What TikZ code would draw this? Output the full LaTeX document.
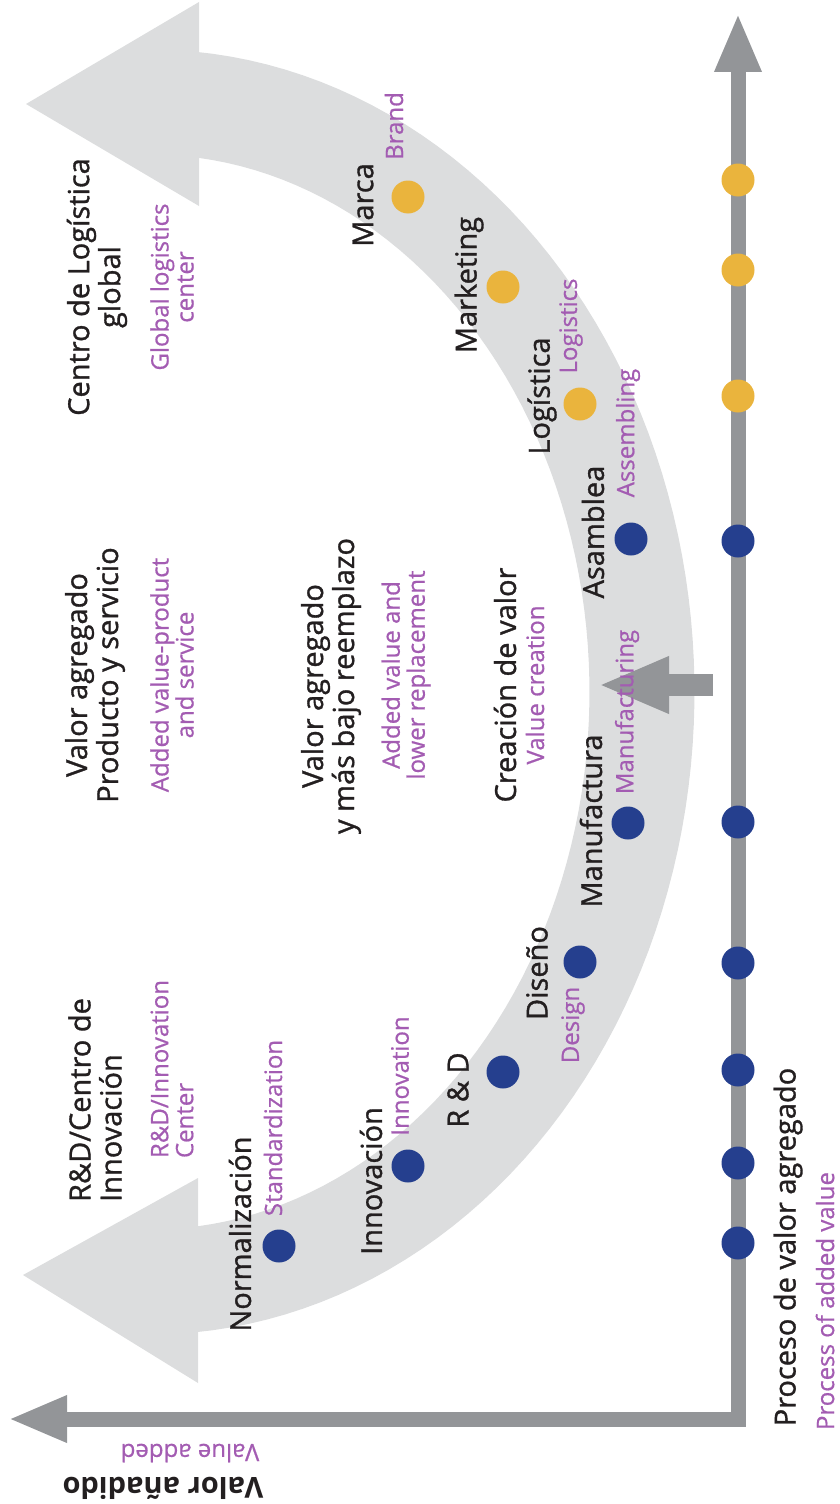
\documentclass[tikz,border=0pt]{standalone}
\usepackage{fontspec}
\setmainfont{Open Sans}
\newfontfamily\medfont{Open Sans}[FakeBold=1.1]
\newfontfamily\purfont{Open Sans}[FakeBold=0.7]
\usetikzlibrary{arrows.meta,positioning}
\definecolor{axisgray}{HTML}{939598}
\definecolor{bandgray}{HTML}{DCDDDE}
\definecolor{dotblue}{HTML}{253F8E}
\definecolor{dotgold}{HTML}{EAB43D}
\definecolor{engpurple}{HTML}{A35CB2}
\definecolor{txtblack}{HTML}{231F20}
\tikzstyle{bluedot}  = [circle, fill=dotblue, minimum size=33pt, inner sep=0pt]
\tikzstyle{golddot}  = [circle, fill=dotgold, minimum size=33pt, inner sep=0pt]
\tikzstyle{spanish}  = [rotate=90, inner sep=0pt, text=txtblack, font=\medfont\fontsize{29}{31}\selectfont]
\tikzstyle{english}  = [rotate=90, inner sep=0pt, text=engpurple, font=\purfont\fontsize{24}{25}\selectfont]
\tikzstyle{axis}     = [draw=axisgray, line width=15pt, line join=miter]
\tikzstyle{band}     = [draw=bandgray, line width=105pt]
\tikzstyle{bandhead} = [fill=bandgray]
\tikzstyle{push}     = [draw=axisgray, line width=22pt, -{Triangle[length=71pt,width=52pt]}]

\begin{document}
\begin{tikzpicture}[x=1pt, y=-1pt]
	\useasboundingbox (0,0) rectangle (840,1504);
	% Curved band %
	\path [band] plot[domain=-85.5:85.5, samples=90] ({150+492*cos(\x)},{692+590*sin(\x)});
	\path [bandhead] (26,104) -- (199,2) -- (199,206) -- cycle;
	\path [bandhead] (23,1275) -- (198,1178) -- (198,1383) -- cycle;
	% Axes %
	\coordinate (ytip) at (738,13);
	\coordinate (xtip) at (8,1419);
	\coordinate (pushstart) at (713,685);
	\coordinate (pushend) at (598,685);
	\draw [axis, {Triangle[length=59pt,width=43pt]}-{Triangle[length=59pt,width=43pt]}] (ytip) |- (xtip);
	\draw [push] (pushstart) -- (pushend);
	% Dots on the curve %
	\node [golddot] (marcaD) at (408,197) {};
	\node [golddot] (mktD) at (503,287) {};
	\node [golddot] (logD) at (580,404) {};
	\node [bluedot] (asmD) at (631,539) {};
	\node [bluedot] (manD) at (628,823) {};
	\node [bluedot] (disD) at (580,962) {};
	\node [bluedot] (rdD) at (503,1072) {};
	\node [bluedot] (innD) at (408,1166) {};
	\node [bluedot] (norD) at (279,1246) {};
	% Dots on the axis %
	\node [golddot] (a1) at (738,180) {};
	\node [golddot] (a2) at (738,270) {};
	\node [golddot] (a3) at (738,396) {};
	\node [bluedot] (a4) at (738,541) {};
	\node [bluedot] (a5) at (738,822) {};
	\node [bluedot] (a6) at (738,963) {};
	\node [bluedot] (a7) at (738,1070) {};
	\node [bluedot] (a8) at (738,1163) {};
	\node [bluedot] (a9) at (738,1243) {};
	% Headings %
	\node [spanish, align=center] (centro) at (97,287) {Centro de Logística\\global};
	\node [english, align=center] (global) at (172,287) {Global logistics\\center};
	\node [spanish, align=center] (valprod) at (95,675) {Valor agregado\\Producto y servicio};
	\node [english, align=center] (addprod) at (172,675) {Added value-product\\and service};
	\node [spanish, align=center] (valbajo) at (331,686) {Valor agregado\\y más bajo reemplazo};
	\node [english, align=center] (addlow) at (406,675) {Added value and\\lower replacement};
	\node [spanish] (creacion) at (505,685) {Creación de valor};
	\node [english] (valcre) at (535,685) {Value creation};
	\node [spanish, align=left] (rdcentro) at (95,1100) {R\&D/Centro de\\Innovación};
	\node [english, align=left] (rdinn) at (172,1069) {R\&D/Innovation\\Center};
	% Steps %
	\node [spanish] (marca) at (363,205) {Marca};
	\node [english] (brand) at (394,126) {Brand};
	\node [spanish] (marketing) at (469,285) {Marketing};
	\node [spanish] (logistica) at (542,396) {Logística};
	\node [english] (logistics) at (571,326) {Logistics};
	\node [spanish] (asamblea) at (593,532) {Asamblea};
	\node [english] (assembling) at (628,433) {Assembling};
	\node [spanish] (manufactura) at (591,821) {Manufactura};
	\node [english] (manufacturing) at (627,712) {Manufacturing};
	\node [spanish] (diseno) at (537,973) {Diseño};
	\node [english] (design) at (573,1025) {Design};
	\node [spanish] (rd) at (458,1090) {R \& D};
	\node [spanish] (innovacion) at (371,1181) {Innovación};
	\node [english] (innovation) at (400,1076) {Innovation};
	\node [spanish] (normalizacion) at (240,1234) {Normalización};
	\node [english] (standard) at (273,1128) {Standardization};
	% Axis titles %
	\node [spanish] (proceso) at (788,1247) {Proceso de valor agregado};
	\node [english] (process) at (825,1301) {Process of added value};
	\node [spanish, rotate=90, font=\fontsize{29}{31}\selectfont\bfseries] (anadido) at (163,1488) {Valor añadido};
	\node [english, rotate=90] (valadded) at (190,1453) {Value added};
\end{tikzpicture}
\end{document}
